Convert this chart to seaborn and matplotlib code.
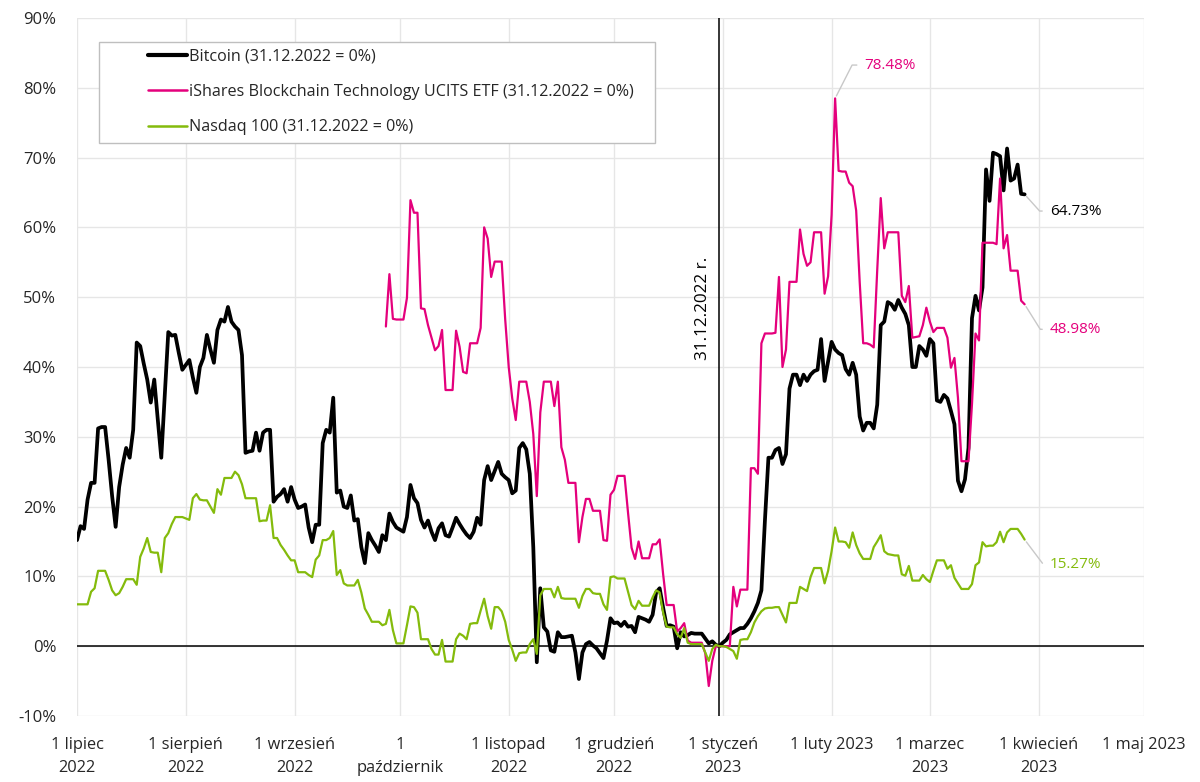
import pandas as pd
import matplotlib
matplotlib.use("Agg")
import matplotlib.pyplot as plt
from matplotlib.lines import Line2D
from matplotlib.patches import Rectangle
import seaborn as sns

# daily change in %, 31.12.2022 = 0%
btc_start = "2022-07-01"
btc = [15.2, 17.2, 16.8, 21.0, 23.4, 23.4, 31.2, 31.4, 31.4, 26.7,
       21.5, 17.1, 22.8, 26.0, 28.4, 27.0, 31.0, 43.5, 43.0, 40.5,
       38.2, 34.9, 38.2, 32.5, 27.0, 36.0, 45.0, 44.5, 44.6, 42.0,
       39.6, 40.3, 41.0, 38.5, 36.3, 40.0, 41.3, 44.6, 42.5, 40.6,
       45.3, 46.8, 46.5, 48.6, 46.5, 45.8, 45.3, 41.7, 27.7, 27.9,
       28.0, 30.6, 28.0, 30.6, 31.0, 31.0, 20.7, 21.4, 21.8, 22.5,
       20.7, 22.8, 21.0, 19.8, 20.0, 20.3, 17.0, 14.9, 17.4, 17.4,
       29.1, 31.0, 30.6, 35.6, 22.0, 22.3, 20.0, 19.8, 21.6, 18.0,
       18.2, 14.2, 11.9, 16.2, 15.2, 14.4, 13.5, 15.9, 15.2, 19.0,
       17.8, 17.0, 16.7, 16.4, 18.5, 23.1, 21.2, 20.5, 18.1, 17.0,
       18.0, 16.4, 15.2, 16.9, 17.6, 15.9, 15.7, 17.0, 18.4, 17.5,
       16.7, 16.0, 15.5, 16.4, 18.4, 17.4, 23.8, 25.8, 23.8, 25.1,
       26.4, 24.7, 24.2, 23.8, 21.9, 22.3, 28.4, 29.1, 28.2, 24.7,
       14.2, -2.3, 8.3, 2.7, 2.1, -0.6, -0.8, 2.0, 1.3, 1.3,
       1.4, 1.5, -0.9, -4.7, -0.9, 0.3, 0.6, 0.1, -0.3, -1.0,
       -1.7, 0.8, 4.0, 3.3, 3.4, 2.9, 3.5, 2.8, 2.9, 2.0,
       4.2, 4.0, 3.8, 3.5, 4.5, 7.7, 8.3, 5.5, 2.9, 3.0,
       2.8, -0.3, 2.0, 1.4, 1.6, 1.9, 1.8, 1.8, 1.8, 1.1,
       0.4, 0.7, 0.2, 0.0, 0.5, 0.9, 1.7, 2.0, 2.3, 2.6,
       2.6, 3.2, 4.0, 5.0, 6.2, 8.0, 18.0, 27.0, 27.0, 28.1,
       28.4, 26.1, 27.5, 36.9, 38.9, 38.9, 37.4, 38.9, 38.0, 38.9,
       39.4, 39.6, 44.0, 38.0, 40.8, 43.6, 42.5, 42.0, 41.7, 39.7,
       38.9, 40.6, 38.9, 32.9, 30.9, 32.0, 32.0, 31.2, 34.6, 46.0,
       46.5, 49.3, 49.0, 48.2, 49.6, 48.5, 47.6, 46.0, 40.0, 40.0,
       43.0, 42.5, 41.6, 44.0, 43.4, 35.2, 35.0, 36.0, 35.5, 33.7,
       31.8, 23.7, 22.2, 23.9, 28.4, 47.0, 50.2, 48.1, 51.4, 68.3,
       63.8, 70.7, 70.5, 70.2, 65.3, 71.3, 66.7, 67.0, 69.0, 64.8,
       64.73]

etf_start = "2022-09-27"
etf = [45.8, 53.3, 46.9, 46.8, 46.8, 46.8, 49.9, 63.9, 62.1, 62.1,
       48.4, 48.3, 46.0, 44.2, 42.4, 43.0, 45.3, 36.7, 36.7, 36.7,
       45.2, 42.9, 39.3, 39.1, 43.4, 43.4, 43.4, 45.6, 60.0, 58.4,
       52.9, 55.1, 55.1, 55.1, 46.8, 40.0, 35.5, 32.4, 37.9, 37.9,
       37.9, 35.0, 30.4, 21.5, 33.5, 37.9, 37.9, 37.9, 34.4, 37.9,
       28.5, 26.7, 23.4, 23.4, 23.4, 14.9, 18.5, 21.1, 21.1, 19.4,
       19.4, 19.4, 15.2, 15.1, 21.7, 22.4, 24.4, 24.4, 24.4, 19.1,
       14.1, 12.5, 15.0, 12.6, 12.6, 12.6, 14.6, 14.6, 15.3, 10.3,
       5.9, 5.9, 5.9, 2.1, 2.6, 3.3, 0.8, 0.5, 0.5, 0.5,
       0.5, -1.0, -5.7, -2.1, 0.0, 0.0, 0.0, 0.0, 0.0, 8.5,
       5.7, 8.1, 8.1, 8.1, 25.5, 25.5, 24.7, 43.4, 44.8, 44.8,
       44.8, 44.9, 52.9, 40.0, 42.5, 52.2, 52.2, 52.2, 59.7, 56.2,
       54.5, 55.0, 59.3, 59.3, 59.3, 50.5, 53.0, 61.8, 78.48, 68.1,
       68.0, 68.0, 66.4, 65.9, 62.4, 52.2, 43.4, 43.4, 43.2, 42.8,
       53.9, 64.2, 57.0, 59.3, 59.3, 59.3, 59.3, 50.2, 49.3, 51.6,
       44.2, 44.3, 44.4, 46.0, 48.5, 46.5, 45.0, 45.6, 45.6, 45.6,
       44.2, 39.9, 41.3, 35.6, 26.5, 26.5, 26.5, 34.7, 44.8, 43.8,
       57.8, 57.8, 57.8, 57.8, 57.6, 67.0, 57.0, 58.9, 53.8, 53.8,
       53.8, 49.5, 48.98]

ndx_start = "2022-07-01"
ndx = [6.0, 6.0, 6.0, 6.0, 7.8, 8.3, 10.8, 10.8, 10.8, 9.5,
       8.0, 7.3, 7.6, 8.5, 9.6, 9.6, 9.6, 8.8, 12.8, 14.0,
       15.5, 13.5, 13.4, 13.4, 10.6, 15.5, 16.2, 17.5, 18.5, 18.5,
       18.5, 18.3, 18.1, 21.2, 21.8, 21.0, 20.9, 20.9, 20.0, 19.1,
       22.5, 21.7, 24.1, 24.1, 24.1, 25.0, 24.5, 23.2, 21.2, 21.2,
       21.2, 21.2, 17.9, 18.0, 18.0, 20.2, 15.5, 15.5, 14.5, 13.8,
       13.0, 12.3, 12.3, 10.6, 10.6, 10.6, 10.2, 9.9, 12.4, 13.0,
       15.2, 15.2, 15.5, 16.5, 10.2, 10.9, 9.0, 8.7, 8.7, 8.7,
       9.5, 7.7, 5.4, 4.5, 3.5, 3.5, 3.5, 3.0, 3.2, 5.2,
       2.3, 0.4, 0.4, 0.4, 3.0, 5.7, 5.6, 4.8, 1.0, 1.0,
       1.0, -0.4, -1.2, -1.2, 0.9, -2.2, -2.2, -2.2, 1.0, 1.8,
       1.5, 1.0, 3.2, 3.3, 3.3, 5.1, 6.8, 4.3, 2.5, 5.6,
       5.6, 5.0, 3.5, 0.9, -0.5, -2.1, -1.0, -0.9, -0.9, 0.3,
       1.0, -1.1, 7.3, 8.2, 8.2, 8.2, 7.0, 8.5, 6.9, 6.8,
       6.8, 6.8, 6.8, 5.5, 7.2, 8.2, 8.2, 7.6, 7.5, 7.5,
       6.0, 5.2, 9.9, 10.0, 9.7, 9.7, 9.7, 7.8, 5.9, 5.3,
       6.5, 5.8, 5.8, 5.8, 7.0, 8.0, 7.7, 4.8, 2.8, 2.7,
       2.7, 1.7, 1.2, 2.6, 0.5, 0.3, 0.3, 0.3, 0.3, -0.9,
       -2.1, -0.4, 0.2, 0.0, 0.0, -0.1, -0.4, -0.7, -1.8, 0.9,
       1.0, 1.0, 2.0, 3.4, 4.3, 5.0, 5.4, 5.5, 5.5, 5.6,
       5.6, 4.5, 3.4, 6.2, 6.2, 6.2, 8.5, 8.2, 7.9, 9.9,
       11.2, 11.2, 11.2, 9.0, 10.8, 13.6, 17.0, 15.0, 15.0, 14.9,
       14.1, 16.3, 14.5, 13.3, 12.5, 12.5, 12.5, 14.2, 15.0, 15.9,
       13.6, 13.2, 13.1, 13.0, 13.0, 10.3, 10.1, 11.5, 9.4, 9.4,
       9.4, 10.2, 9.6, 9.2, 10.8, 12.3, 12.3, 12.3, 11.1, 11.6,
       9.8, 9.0, 8.2, 8.2, 8.2, 8.9, 11.6, 12.0, 14.9, 14.3,
       14.4, 14.4, 14.9, 16.4, 14.9, 16.3, 16.8, 16.8, 16.8, 16.1,
       15.27]

series_names = ["Bitcoin (31.12.2022 = 0%)",
                "iShares Blockchain Technology UCITS ETF (31.12.2022 = 0%)",
                "Nasdaq 100 (31.12.2022 = 0%)"]
month_labels = ["1 lipiec\n2022", "1 sierpień\n2022", "1 wrzesień\n2022",
                "1\npaździernik", "1 listopad\n2022", "1 grudzień\n2022",
                "1 styczeń\n2023", "1 luty 2023", "1 marzec\n2023",
                "1 kwiecień\n2023", "1 maj 2023"]
y_ticks = [-10, 0, 10, 20, 30, 40, 50, 60, 70, 80, 90]

BLACK = "#000000"
PINK = "#e4007c"
GREEN = "#84bb0c"
LEADER = "#c8c8c8"

sns.set_theme(style="white")
plt.rcParams["font.family"] = ["Open Sans", "DejaVu Sans"]

btc_s = pd.Series(btc, index=pd.date_range(btc_start, periods=len(btc), freq="D"))
etf_s = pd.Series(etf, index=pd.date_range(etf_start, periods=len(etf), freq="D"))
ndx_s = pd.Series(ndx, index=pd.date_range(ndx_start, periods=len(ndx), freq="D"))

fig = plt.figure(figsize=(12, 7.82), dpi=100)
ax = fig.add_axes([0.0642, 0.0844, 0.8891, 0.8926])

sns.lineplot(x=btc_s.index, y=btc_s.values, color=BLACK, linewidth=2.7, ax=ax, zorder=3)
sns.lineplot(x=etf_s.index, y=etf_s.values, color=PINK, linewidth=1.6, ax=ax, zorder=4)
sns.lineplot(x=ndx_s.index, y=ndx_s.values, color=GREEN, linewidth=1.6, ax=ax, zorder=5)

months = pd.date_range("2022-07-01", "2023-05-01", freq="MS")
ax.set_xlim(months[0], months[-1])
ax.set_ylim(-10, 90)
ax.set_xticks(months)
ax.set_xticklabels(month_labels, fontsize=11.8, linespacing=1.6)
ax.set_yticks(y_ticks)
ax.set_yticklabels([f"{v}%" for v in y_ticks], fontsize=12)
ax.tick_params(axis="x", length=0, pad=15)
ax.tick_params(axis="y", length=0, pad=15)
ax.set_xlabel("")
ax.set_ylabel("")
ax.grid(True, color="#e6e6e6", linewidth=1)
for sp in ax.spines.values():
    sp.set_visible(False)

ax.axhline(0, color=BLACK, linewidth=1.1, zorder=2)
ref_day = pd.Timestamp("2022-12-31")
ax.axvline(ref_day, color=BLACK, linewidth=1.1, zorder=2)
ax.annotate("31.12.2022 r.", xy=(ref_day, 41), xytext=(-6, 0), textcoords="offset points",
            rotation=90, ha="right", va="bottom", fontsize=12.3, color=BLACK)


def tag(x, y, text, color, offset, angle):
    ax.annotate(text, xy=(x, y), xytext=offset, textcoords="offset points",
                ha="left", va="center", color=color, fontsize=11,
                arrowprops=dict(arrowstyle="-", color=LEADER, lw=1,
                                connectionstyle=f"angle,angleA=0,angleB={angle},rad=0",
                                relpos=(0, 0.5), shrinkA=3, shrinkB=2))


tag(btc_s.index[-1], btc_s.iloc[-1], f"{btc_s.iloc[-1]:.2f}%", BLACK, (18, -12), -48)
tag(etf_s.index[-1], etf_s.iloc[-1], f"{etf_s.iloc[-1]:.2f}%", PINK, (18, -18), -58)
tag(ndx_s.index[-1], ndx_s.iloc[-1], f"{ndx_s.iloc[-1]:.2f}%", GREEN, (18, -18), -53)
tag(etf_s.idxmax(), etf_s.max(), f"{etf_s.max():.2f}%", PINK, (21, 24), 63)

# legend box
ax.add_patch(Rectangle((0.0206, 0.8209), 0.5211, 0.1447, transform=ax.transAxes,
                       facecolor="white", edgecolor="#bfbfbf", linewidth=1, zorder=6))
handles = [Line2D([], [], color=BLACK, linewidth=3.0),
           Line2D([], [], color=PINK, linewidth=1.8),
           Line2D([], [], color=GREEN, linewidth=1.8)]
leg = ax.legend(handles, series_names, loc="upper left", bbox_to_anchor=(0.0665, 0.956),
                frameon=False, fontsize=11.6, handlelength=2.4, handletextpad=0.15,
                labelspacing=1.2, borderpad=0, borderaxespad=0)
leg.set_zorder(7)

fig.savefig("out.png", dpi=100)
